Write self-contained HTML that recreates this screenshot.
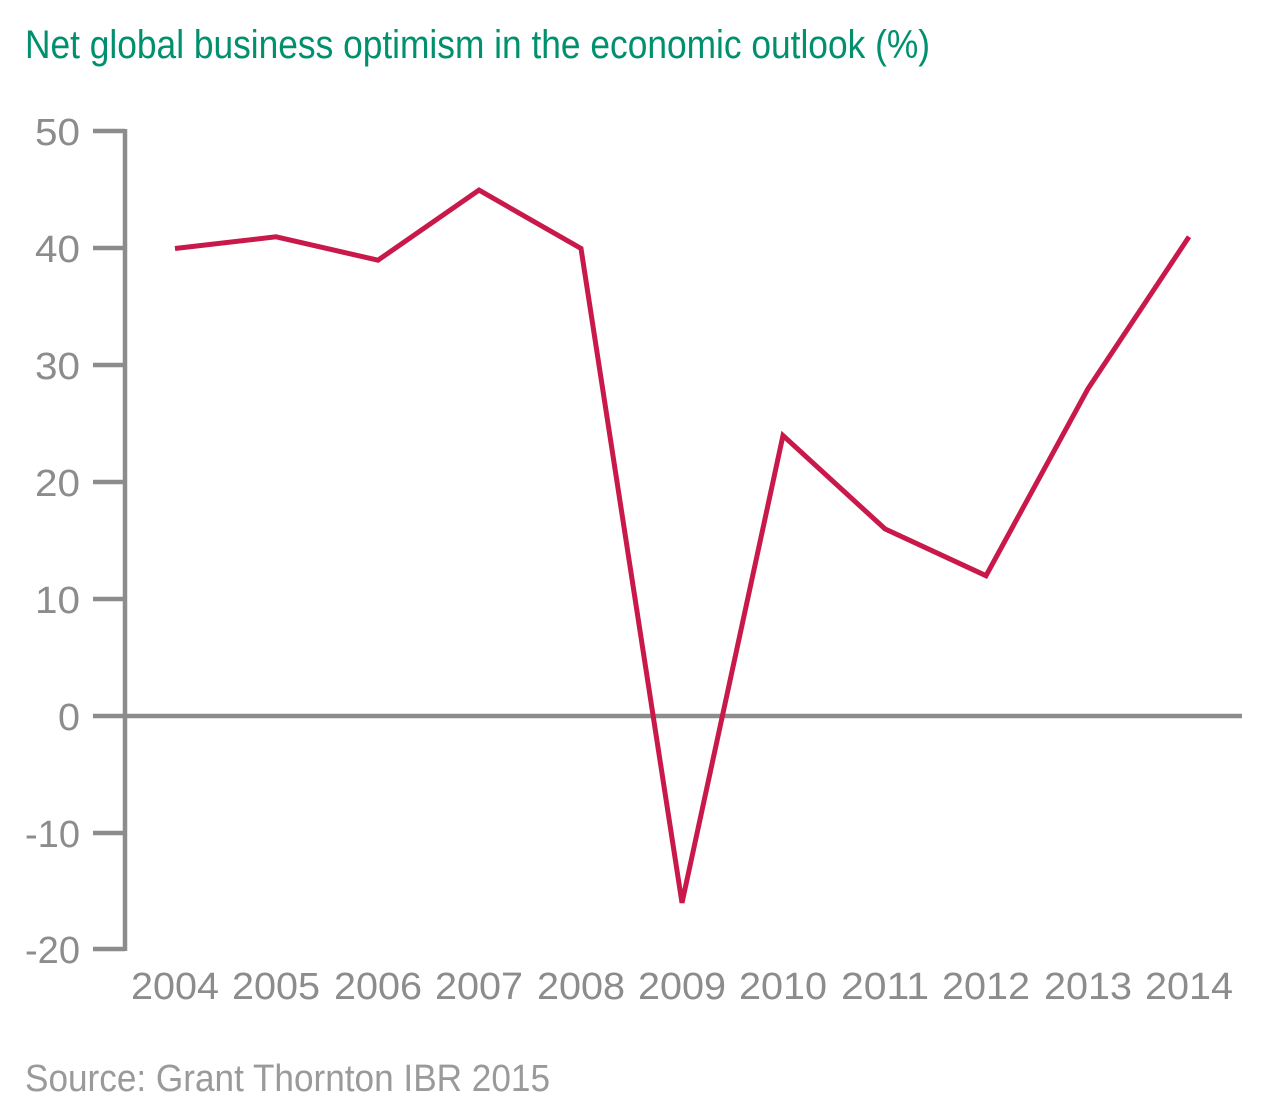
<!DOCTYPE html>
<html><head><meta charset="utf-8"><style>
html,body{margin:0;padding:0;background:#fff;}
svg{display:block;}
text{font-family:"Liberation Sans Narrow","Liberation Sans",sans-serif;}
</style></head><body>
<svg width="1279" height="1117" viewBox="0 0 1279 1117" xmlns="http://www.w3.org/2000/svg">
<text x="25" y="58" font-size="40" fill="#00906e" textLength="905" lengthAdjust="spacingAndGlyphs">Net global business optimism in the economic outlook (%)</text>
<g stroke="#8c8c8c" stroke-width="4.5" fill="none">
<line x1="125" y1="129" x2="125" y2="951"/>
<line x1="93" y1="131" x2="125" y2="131"/>
<line x1="93" y1="248" x2="125" y2="248"/>
<line x1="93" y1="365" x2="125" y2="365"/>
<line x1="93" y1="482" x2="125" y2="482"/>
<line x1="93" y1="599" x2="125" y2="599"/>
<line x1="93" y1="716" x2="1242" y2="716"/>
<line x1="93" y1="833" x2="125" y2="833"/>
<line x1="93" y1="949" x2="125" y2="949"/>
</g>
<g font-size="38" fill="#8c8c8c">
<text x="35" y="145" textLength="45" lengthAdjust="spacingAndGlyphs">50</text>
<text x="35" y="262" textLength="45" lengthAdjust="spacingAndGlyphs">40</text>
<text x="35" y="379" textLength="45" lengthAdjust="spacingAndGlyphs">30</text>
<text x="35" y="496" textLength="45" lengthAdjust="spacingAndGlyphs">20</text>
<text x="35" y="613" textLength="45" lengthAdjust="spacingAndGlyphs">10</text>
<text x="58" y="730" textLength="22" lengthAdjust="spacingAndGlyphs">0</text>
<text x="25" y="847" textLength="55" lengthAdjust="spacingAndGlyphs">-10</text>
<text x="25" y="963" textLength="55" lengthAdjust="spacingAndGlyphs">-20</text>
</g>
<g font-size="38" fill="#8c8c8c">
<text x="131" y="999" textLength="88" lengthAdjust="spacingAndGlyphs">2004</text>
<text x="232" y="999" textLength="88" lengthAdjust="spacingAndGlyphs">2005</text>
<text x="334" y="999" textLength="88" lengthAdjust="spacingAndGlyphs">2006</text>
<text x="435" y="999" textLength="88" lengthAdjust="spacingAndGlyphs">2007</text>
<text x="537" y="999" textLength="88" lengthAdjust="spacingAndGlyphs">2008</text>
<text x="638" y="999" textLength="88" lengthAdjust="spacingAndGlyphs">2009</text>
<text x="739" y="999" textLength="88" lengthAdjust="spacingAndGlyphs">2010</text>
<text x="841" y="999" textLength="88" lengthAdjust="spacingAndGlyphs">2011</text>
<text x="942" y="999" textLength="88" lengthAdjust="spacingAndGlyphs">2012</text>
<text x="1044" y="999" textLength="88" lengthAdjust="spacingAndGlyphs">2013</text>
<text x="1145" y="999" textLength="88" lengthAdjust="spacingAndGlyphs">2014</text>
</g>
<polyline fill="none" stroke="#c8194a" stroke-width="5" stroke-linejoin="miter" points="175,248.5 276,236.8 378,260.2 479,190.1 581,248.5 682,902.9 783,435.5 885,528.9 986,575.7 1088,388.7 1189,236.8"/>
<text x="25" y="1091" font-size="38" fill="#9a9a9a" textLength="525" lengthAdjust="spacingAndGlyphs">Source: Grant Thornton IBR 2015</text>
</svg>
</body></html>
